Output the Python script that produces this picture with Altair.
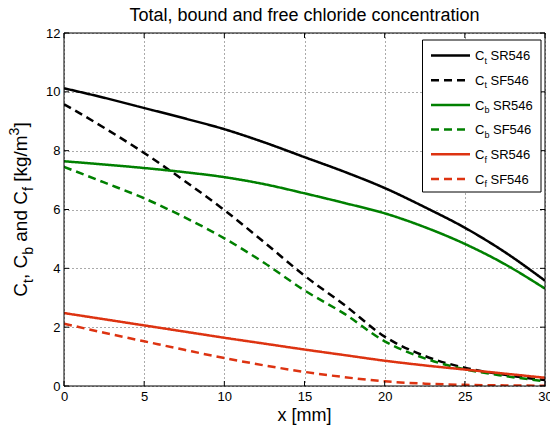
import altair as alt
import pandas as pd

# ---- data: chloride concentration profiles [kg/m^3] vs depth x [mm] ----
x_mm = [0, 2.5, 5, 7.5, 10, 12.5, 15, 17.5, 20, 22.5, 25, 27.5, 30]
ct_sr546 = [10.12, 9.80, 9.45, 9.10, 8.73, 8.28, 7.78, 7.28, 6.73, 6.08, 5.38, 4.55, 3.58]
ct_sf546 = [9.58, 8.78, 7.92, 6.98, 5.98, 4.88, 3.75, 2.75, 1.68, 1.02, 0.62, 0.38, 0.20]
cb_sr546 = [7.64, 7.53, 7.41, 7.27, 7.10, 6.86, 6.55, 6.22, 5.87, 5.40, 4.83, 4.14, 3.31]
cb_sf546 = [7.45, 6.92, 6.38, 5.74, 5.02, 4.18, 3.25, 2.45, 1.52, 0.94, 0.57, 0.34, 0.16]
cf_sr546 = [2.48, 2.27, 2.06, 1.85, 1.64, 1.44, 1.24, 1.05, 0.86, 0.70, 0.56, 0.42, 0.28]
cf_sf546 = [2.12, 1.81, 1.52, 1.23, 0.95, 0.70, 0.48, 0.30, 0.16, 0.08, 0.04, 0.02, 0.01]

x_ticks = [0, 5, 10, 15, 20, 25, 30]
y_ticks = [0, 2, 4, 6, 8, 10, 12]

title_text = "Total, bound and free chloride concentration"
x_title = "x [mm]"

# (component subscript, mix, values)
series = [
    ("t", "SR546", ct_sr546),
    ("t", "SF546", ct_sf546),
    ("b", "SR546", cb_sr546),
    ("b", "SF546", cb_sf546),
    ("f", "SR546", cf_sr546),
    ("f", "SF546", cf_sf546),
]

# ---- styling ----
W, H = 481, 353
FONT = "Liberation Sans"
COLORS = {"t": "#000000", "b": "#008000", "f": "#dd3311"}
DASHES = {"SR546": [1, 0], "SF546": [8, 5]}
LW = 2.5

xs = alt.Scale(domain=[0, 30], nice=False, zero=False)
ys = alt.Scale(domain=[0, 12], nice=False, zero=False)

axis_style = dict(title=None, grid=True, ticks=False, domain=False,
                  labelFontSize=13, labelFont=FONT, labelColor="black",
                  labelPadding=4, labelFlush=False, labelOverlap=False,
                  format="d", gridDash=[1, 3], gridColor="#555555", gridWidth=1)
x_axis = alt.Axis(values=x_ticks, **axis_style)
y_axis = alt.Axis(values=y_ticks, **axis_style)

# Arial/Helvetica advance widths (per 1000 em) for laying out sub/superscripts
EM = {"C": 722, "t": 278, ",": 278, " ": 278, "b": 556, "a": 556, "n": 556,
      "d": 556, "f": 278, "[": 278, "k": 500, "g": 556, "/": 278, "m": 833,
      "3": 556, "]": 278, "S": 667, "R": 722, "F": 611, "4": 556, "5": 556,
      "6": 556}


def text_width(s, size):
    return sum(EM.get(c, 556) for c in s) * size / 1000.0


one_row = pd.DataFrame({"k": [0]})

layers = []

# ---- curves ----
for comp, mix, vals in series:
    df = pd.DataFrame({"x": x_mm, "c": vals})
    layers.append(
        alt.Chart(df).mark_line(strokeWidth=LW, interpolate="monotone",
                                color=COLORS[comp], strokeDash=DASHES[mix],
                                clip=True)
        .encode(x=alt.X("x:Q", scale=xs, axis=x_axis),
                y=alt.Y("c:Q", scale=ys, axis=y_axis))
    )

# ---- inward tick marks on all four sides ----
TL = 5
xt = pd.DataFrame({"x": x_ticks})
yt = pd.DataFrame({"y": y_ticks})
for y0, y1 in [(H, H - TL), (0, TL)]:
    layers.append(alt.Chart(xt).mark_rule(color="black", strokeWidth=1).encode(
        x=alt.X("x:Q", scale=xs, axis=x_axis), y=alt.value(y0), y2=alt.value(y1)))
for x0, x1 in [(0, TL), (W, W - TL)]:
    layers.append(alt.Chart(yt).mark_rule(color="black", strokeWidth=1).encode(
        y=alt.Y("y:Q", scale=ys, axis=y_axis), x=alt.value(x0), x2=alt.value(x1)))

# ---- axes box ----
layers.append(alt.Chart(one_row).mark_rect(fill=None, stroke="black", strokeWidth=1).encode(
    x=alt.value(0), x2=alt.value(W), y=alt.value(0), y2=alt.value(H)))


def text_run(pieces, x0, y0, main_fs, sub_fs, shifts, angle=0):
    """Lay out a run of text pieces with sub/superscripts, left to right."""
    out = []
    adv = 0.0
    for t, shift in pieces:
        sz = main_fs if shift == 0 else sub_fs
        lead = len(t) - len(t.lstrip(" "))
        adv += text_width(" " * lead, sz)
        t = t.lstrip(" ")
        kw = dict(text=t, font=FONT, fontSize=sz, align="left",
                  baseline="alphabetic", color="black")
        if angle:
            kw.update(angle=angle, dx=adv, dy=shifts[shift])
            enc = dict(x=alt.value(x0), y=alt.value(y0))
        else:
            kw.update(dy=shifts[shift])
            enc = dict(x=alt.value(x0 + adv), y=alt.value(y0))
        out.append(alt.Chart(one_row).mark_text(**kw).encode(**enc))
        adv += text_width(t, sz)
    return out, adv


# ---- legend ----
LX0, LX1, LY0, LY1 = 358.5, 477, 7, 159
layers.append(alt.Chart(one_row).mark_rect(fill="white", stroke="black", strokeWidth=1).encode(
    x=alt.value(LX0), x2=alt.value(LX1), y=alt.value(LY0), y2=alt.value(LY1)))
for i, (comp, mix, _) in enumerate(series):
    ly = 22.5 + 24.7 * i
    layers.append(alt.Chart(one_row).mark_rule(
        color=COLORS[comp], strokeDash=DASHES[mix], strokeWidth=LW).encode(
        x=alt.value(367), x2=alt.value(406), y=alt.value(ly)))
    run, _ = text_run([("C", 0), (comp, 1), (" " + mix, 0)], 411, ly + 4.7,
                      13, 9, {0: 0, 1: 3.5})
    layers.extend(run)

# ---- title and x label ----
layers.append(alt.Chart(one_row).mark_text(
    text=title_text, font=FONT, fontSize=18, align="center", baseline="alphabetic",
    color="black").encode(x=alt.value(W / 2), y=alt.value(-12)))
layers.append(alt.Chart(one_row).mark_text(
    text=x_title, font=FONT, fontSize=18, align="center", baseline="alphabetic",
    color="black").encode(x=alt.value(W / 2), y=alt.value(H + 35)))

# ---- rotated y label with subscripts / superscript ----
y_pieces = [("C", 0), ("t", 1), (", C", 0), ("b", 1), (" and C", 0), ("f", 1),
            (" [kg/m", 0), ("3", -1), ("]", 0)]
YFS, YSUB = 19, 14
y_len = sum(text_width(t, YFS if s == 0 else YSUB) for t, s in y_pieces)
run, _ = text_run(y_pieces, -37.5, H / 2 + y_len / 2, YFS, YSUB,
                  {0: 0, 1: 6, -1: -8}, angle=270)
layers.extend(run)

chart = alt.layer(*layers).properties(
    width=W, height=H,
    autosize=alt.AutoSizeParams(type="none"),
    padding={"left": 64, "top": 33, "right": 5, "bottom": 45},
    background="white",
).configure_view(stroke=None)

chart.save("out.html", embed_options={"renderer": "svg", "actions": False})
